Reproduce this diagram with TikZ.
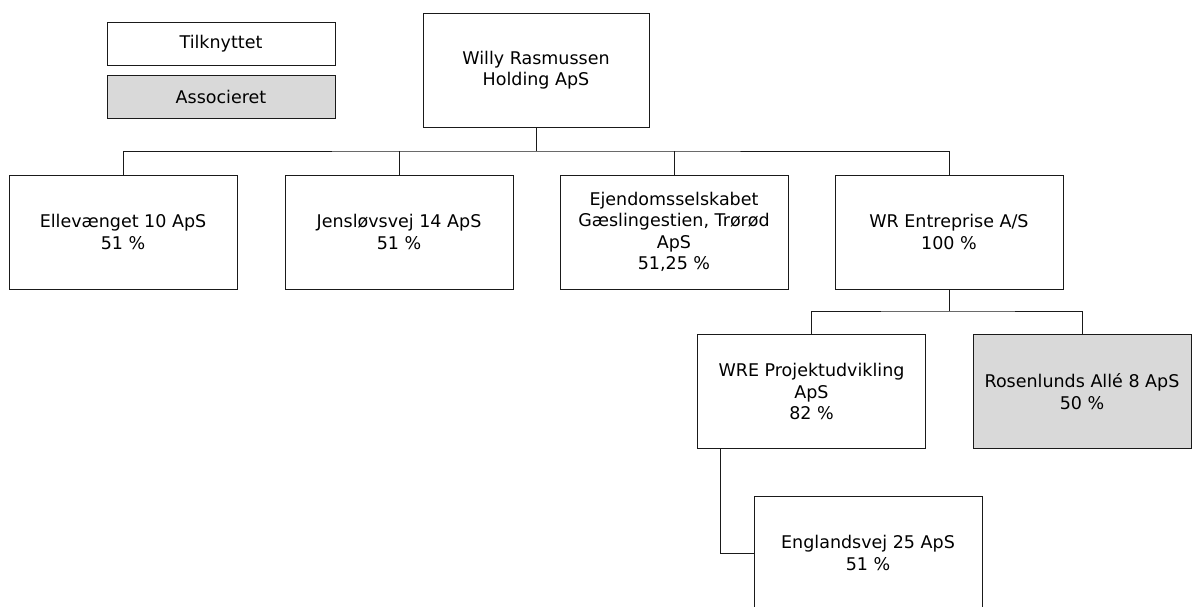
\documentclass[tikz,border=0pt]{standalone}
\usepackage{fontspec}
\setmainfont{DejaVu Sans}
\definecolor{assoc}{HTML}{D9D9D9}
\definecolor{ln}{HTML}{1A1A1A}
\tikzset{
  orgbox/.style={draw=ln, line width=1pt, fill=white, rectangle, inner sep=0pt,
    minimum width=228pt, minimum height=114pt, align=center,
    font=\fontsize{17.5}{21.5}\selectfont},
  legbox/.style={draw=ln, line width=1pt, fill=white, rectangle, inner sep=0pt,
    minimum width=228pt, minimum height=43pt, align=center,
    font=\fontsize{17.5}{21.5}\selectfont},
  assocfill/.style={fill=assoc},
  conn/.style={draw=ln, line width=1pt},
}
\begin{document}
\begin{tikzpicture}[x=1pt, y=-1pt]
\useasboundingbox (0,0) rectangle (1192,606);
\clip (0,0) rectangle (1192,606);
% legend
\node[legbox] (leg1) at (221,43.5) {Tilknyttet};
\node[legbox, assocfill] (leg2) at (221,97) {Associeret};
% top
\node[orgbox, minimum width=226pt] (top) at (536,70) {Willy Rasmussen\\Holding ApS};
% row 1
\node[orgbox] (b1) at (123,232) {Ellevænget 10 ApS\\51 \%};
\node[orgbox] (b2) at (399,232) {Jensløvsvej 14 ApS\\51 \%};
\node[orgbox] (b3) at (674,232) {Ejendomsselskabet\\Gæslingestien, Trørød\\ApS\\51,25 \%};
\node[orgbox] (b4) at (949,232) {WR Entreprise A/S\\100 \%};
% row 2
\node[orgbox] (c1) at (811.5,391.5) {WRE Projektudvikling\\ApS\\82 \%};
\node[orgbox, assocfill, minimum width=218pt] (c2) at (1082,391.5) {Rosenlunds Allé 8 ApS\\50 \%};
% row 3
\node[orgbox] (d1) at (868,553) {Englandsvej 25 ApS\\51 \%};
% connectors
\coordinate (h1) at (536,151);
\draw[conn] (top.south) -- (h1);
\draw[conn] (b1.north) |- (h1) -| (b4.north);
\draw[conn] (b2.north) -- (b2.north |- h1);
\draw[conn] (b3.north) -- (b3.north |- h1);
\coordinate (h2) at (949,311);
\draw[conn] (b4.south) -- (h2);
\draw[conn] (c1.north) |- (h2) -| (c2.north);
\coordinate (v3) at (720,448);
\draw[conn] (v3) |- (d1.west);
\end{tikzpicture}
\end{document}
